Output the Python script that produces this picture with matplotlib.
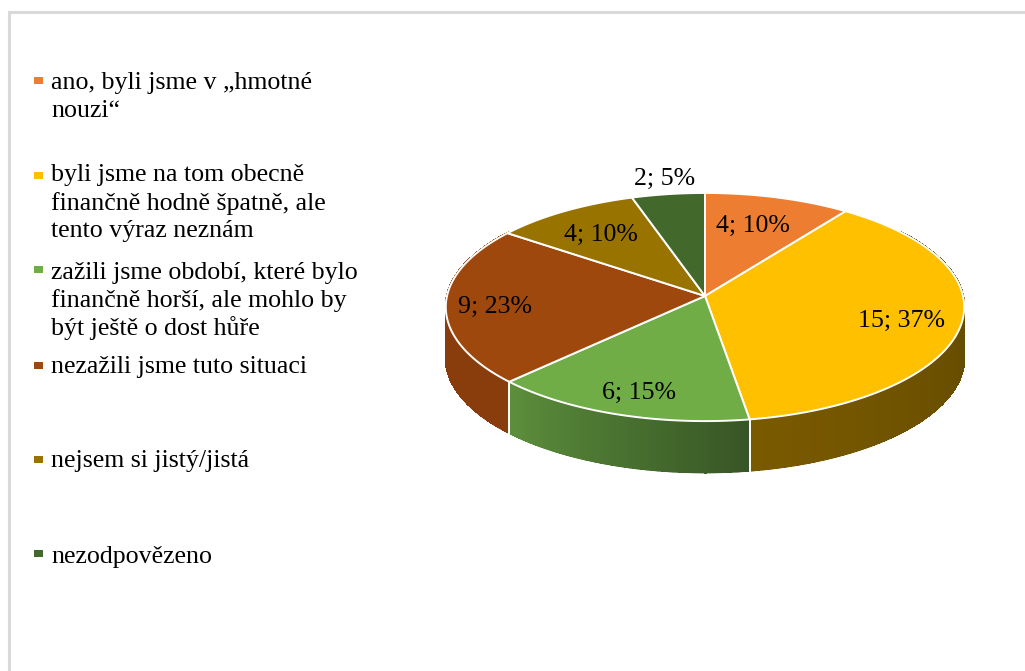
import numpy as np
import matplotlib
matplotlib.use("Agg")
import matplotlib.pyplot as plt
from matplotlib.collections import PolyCollection
from matplotlib.colors import to_rgb
from matplotlib.patches import Polygon, Rectangle

categories = ["ano, byli jsme v „hmotné\nnouzi“",
              "byli jsme na tom obecně\nfinančně hodně špatně, ale\ntento výraz neznám",
              "zažili jsme období, které bylo\nfinančně horší, ale mohlo by\nbýt ještě o dost hůře",
              "nezažili jsme tuto situaci",
              "nejsem si jistý/jistá",
              "nezodpovězeno"]
values = [4, 15, 6, 9, 4, 2]
percents = [10, 37, 15, 23, 10, 5]
colors = ["#ED7D31", "#FFC000", "#70AD47", "#9E480E", "#997300", "#43682B"]
side_start = ["#ED7D31", "#7A5A00", "#5C8F3C", "#8A3D0C", "#997300", "#43682B"]
side_end = ["#ED7D31", "#5E4700", "#375525", "#8A3D0C", "#997300", "#43682B"]

# layout (pixels)
CX, CY, RX, RY, K, DEPTH = 705, 296, 258, 113, 0.0967, 52
label_pos = [(753, 226), (901, 321), (639, 393), (495, 307), (601, 235), (665, 179)]
legend_y = [80, 175, 269, 365, 459, 553]
text_y = [81, 173, 270, 365, 459, 555]
LINE = 27.7
FS = 18.6

plt.rcParams["font.family"] = ["Liberation Serif", "DejaVu Serif"]
fig = plt.figure(figsize=(10.25, 6.71), dpi=100)
ax = fig.add_axes([0, 0, 1, 1])
ax.set_xlim(0, 1025)
ax.set_ylim(671, 0)
ax.axis("off")


def project(t, dy=0.0):
    w = 1 + K * np.cos(t)
    return np.column_stack([CX + RX * np.sin(t) / w, CY + dy - RY * np.cos(t) / w])


# outer frame
ax.plot([9, 9, 1025], [671, 12, 12], color="#D9D9D9", lw=2.2, solid_joinstyle="miter")

edges = np.radians(np.cumsum([0] + values) / sum(values) * 360)

# side walls: only the part facing the viewer
for i in range(len(values)):
    t0, t1 = edges[i], edges[i + 1]
    ts = np.linspace(t0, t1, 160)
    top, bot, inner = project(ts), project(ts, DEPTH), project(ts, DEPTH - 1.2)
    u = np.linspace(0, 1, len(ts) - 1)
    if i == 1:
        f = np.clip((1 - u) / 0.7, 0, 1)
    elif i == 2:
        f = 1 - u
    else:
        f = np.zeros_like(u)
    a, b = np.array(to_rgb(side_start[i])), np.array(to_rgb(side_end[i]))
    idx = np.flatnonzero(np.cos((ts[:-1] + ts[1:]) / 2) < 0.6)
    if idx.size == 0:
        continue
    cols = [a + (b - a) * f[j] for j in idx]
    # smooth lower rim underneath, seamless gradient on top of it
    under = [[top[j], top[j + 1], bot[j + 1], bot[j]] for j in idx]
    ax.add_collection(PolyCollection(under, facecolors=cols, edgecolors=cols, linewidths=0.3, zorder=2))
    quads = [[top[j], top[j + 1], inner[j + 1], inner[j]] for j in idx]
    ax.add_collection(PolyCollection(quads, facecolors=cols, edgecolors=cols, linewidths=1.0,
                                     antialiaseds=False, zorder=2.5))
    if np.cos(t1) < 0.3 and i < 3:
        p = project(np.array([t1]))[0]
        q = project(np.array([t1]), DEPTH)[0]
        ax.plot([p[0], q[0]], [p[1], q[1]], color="white", lw=1.4, zorder=3)

# top faces
for i in range(len(values)):
    ts = np.linspace(edges[i], edges[i + 1], 120)
    pts = np.vstack([[CX, CY], project(ts)])
    ax.add_patch(Polygon(pts, closed=True, facecolor=colors[i], edgecolor="white",
                         lw=1.4, joinstyle="round", zorder=4))

# data labels
for v, p, (x, y) in zip(values, percents, label_pos):
    ax.text(x, y, f"{v}; {p}%", ha="center", va="center", fontsize=FS, color="black", zorder=5)

# legend
for name, c, my, ty in zip(categories, colors, legend_y, text_y):
    ax.add_patch(Rectangle((34, my - 3.5), 9, 7, facecolor=c, edgecolor="none"))
    for n, line in enumerate(name.split("\n")):
        ax.text(51, ty + n * LINE, line, ha="left", va="center_baseline", fontsize=FS, color="black")

fig.savefig("out.png", dpi=100)
